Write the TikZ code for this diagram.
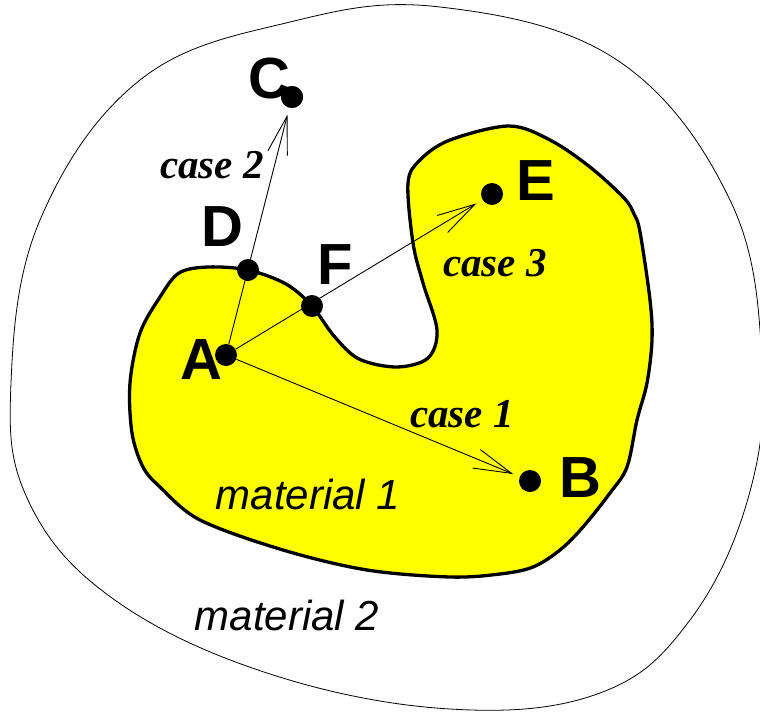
\documentclass[tikz,border=0pt]{standalone}
\usepackage{fontspec}
\setmainfont{Liberation Serif}
\setsansfont{Liberation Sans}
\usetikzlibrary{arrows.meta,positioning}
\definecolor{matyellow}{RGB}{255,255,0}
\tikzset{
  pt/.style    ={circle,fill=black,inner sep=0pt,minimum size=22pt},
  letter/.style={font=\fontsize{58}{58}\selectfont\sffamily\bfseries,inner sep=0pt},
  casel/.style ={font=\fontsize{41}{41}\selectfont\bfseries\itshape,inner sep=0pt},
  mat/.style   ={font=\fontsize{42}{42}\selectfont\sffamily\itshape,inner sep=0pt},
  ar/.style    ={-{Straight Barb[length=38pt,width=20pt]},line width=0.9pt,shorten >=7pt},
}
\begin{document}
\begin{tikzpicture}[x=1pt,y=-1pt]
  \useasboundingbox (0,0) rectangle (760,712);
  % outer region
  \draw[line width=0.8pt] plot[smooth cycle,tension=0.65] coordinates {
    (440,7) (617,60) (730,200) (762,360) (749,495) (690,620) (600,693)
    (450,709) (267,673) (112,598) (28,500) (11,383) (40,220) (140,80)
    (290,22)};
  % inner region
  \draw[line width=3.3pt,fill=matyellow] plot[smooth cycle,tension=0.55] coordinates {
    (179,273) (208,267) (248,270) (286,284) (312,306) (334,336) (359,359)
    (397,367) (428,358) (437,330) (423,283) (413,243) (408,183) (420,160)
    (450,140) (509,126) (550,140) (590,167) (624,198) (634,214) (640,232)
    (650,300) (652,340) (647,383) (637,420) (627,467) (610,493) (583,527)
    (560,550) (533,567) (500,574) (450,577) (367,570) (283,550) (200,520)
    (160,487) (143,467) (132,433) (130,383) (140,333) (160,297)};
  % points
  \node[pt] (A) at (226,355) {};
  \node[pt] (B) at (530,481) {};
  \node[pt] (C) at (292,97) {};
  \node[pt] (D) at (248,270) {};
  \node[pt] (E) at (492,194) {};
  \node[pt] (F) at (312,306) {};
  \draw[ar] (A) -- (C);
  \draw[ar] (A) -- (E);
  \draw[ar] (A) -- (B);
  % letters
  \node[letter] (lA) at (201,360) {A};
  \node[letter] (lB) at (580,478) {B};
  \node[letter] (lC) at (269,79) {C};
  \node[letter] (lD) at (222,227) {D};
  \node[letter] (lE) at (536,181) {E};
  \node[letter] (lF) at (335,265) {F};
  \node[pt] at (C) {};
  % labels
  \node[casel] (c1) at (462,414) {case 1};
  \node[casel] (c2) at (212,165) {case 2};
  \node[casel] (c3) at (495,263) {case 3};
  \node[mat] (m1) at (308,494) {material 1};
  \node[mat] (m2) at (287,615) {material 2};
\end{tikzpicture}
\end{document}
